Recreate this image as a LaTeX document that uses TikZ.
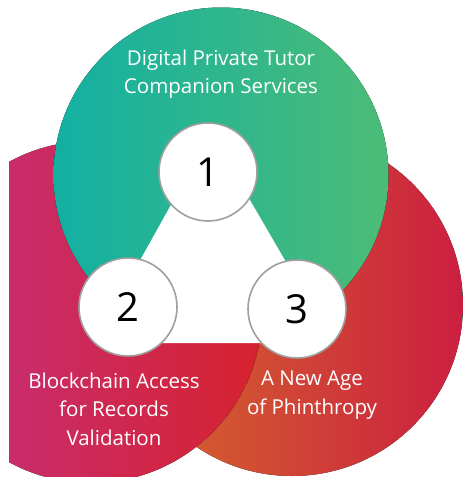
\documentclass[tikz,border=0pt]{standalone}
\usepackage{fontspec}
\setmainfont{Open Sans}
\definecolor{tealA}{HTML}{12B0A3}
\definecolor{greenA}{HTML}{4CBC76}
\definecolor{magA}{HTML}{C43080}
\definecolor{redA}{HTML}{D6222E}
\definecolor{orgA}{HTML}{D46A2C}
\definecolor{redB}{HTML}{CC1F40}
\tikzset{
  numcirc/.style={circle,draw=gray!75,line width=1.6pt,fill=white,minimum size=98pt,inner sep=0pt,font=\fontsize{40}{40}\selectfont},
  caption/.style={text=white,align=center,font=\fontsize{20.5}{28.5}\selectfont}
}
\begin{document}
\begin{tikzpicture}[x=1pt,y=-1pt]
\useasboundingbox (0,0) rectangle (463,477);
\begin{scope}
\clip (9,0) rectangle (463,476);
\fill[left color=orgA,right color=redB] (292,305) circle (171pt);
\fill[left color=magA,right color=redA] (91,312) circle (171pt);
\fill[left color=tealA,right color=greenA] (221,175) circle (167.5pt);
\end{scope}
\coordinate (a) at (211,133);
\coordinate (b) at (94,343);
\coordinate (c) at (333,343);
\fill[white] (a) -- (b) -- (c) -- cycle;
\node[numcirc] (n1) at (208,172) {1};
\node[numcirc] (n2) at (128,307) {2};
\node[numcirc] (n3) at (297,309) {3};
\node[caption] (t1) at (221,74) {Digital Private Tutor\\Companion Services};
\node[caption] (t2) at (114,409) {Blockchain Access\\for Records\\Validation};
\node[caption] (t3) at (312,395) {A New Age\\of Phinthropy};
\end{tikzpicture}
\end{document}
